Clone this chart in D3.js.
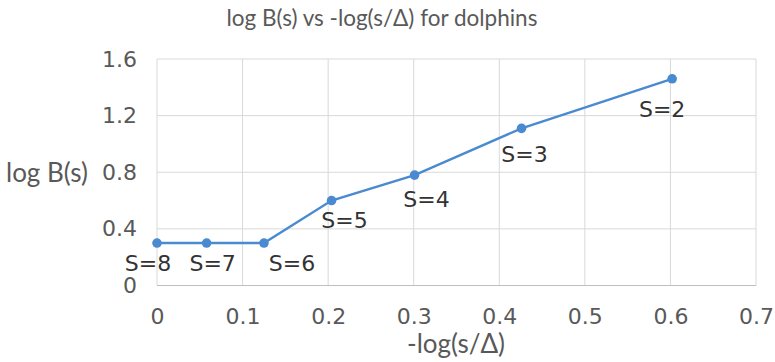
<!DOCTYPE html>
<html>
<head>
<meta charset="utf-8">
<script src="https://cdn.jsdelivr.net/npm/d3@7"></script>
<style>
  body { margin: 0; background: #fff; }
  svg { display: block; }
</style>
</head>
<body>
<div id="chart"></div>
<script>
// log B(s) vs -log(s/Δ), dolphins network

const sizes = [8, 7, 6, 5, 4, 3, 2];
const xVals = [0, 0.058, 0.125, 0.204, 0.301, 0.426, 0.602];
const yVals = [0.30, 0.30, 0.30, 0.60, 0.78, 1.11, 1.46];
const xTicks = [0, 0.1, 0.2, 0.3, 0.4, 0.5, 0.6, 0.7];
const yTicks = [0, 0.4, 0.8, 1.2, 1.6];

// manual label nudges (like dragged Excel data labels)
const labelNudge = [[-9, 20], [6, 20], [28, 20], [13, 20], [12, 24], [3, 26], [-10, 30]];

const width = 775;
const height = 362;
const margin = { top: 59, right: 19, bottom: 76.5, left: 157 };

const svg = d3.select('#chart')
  .append('svg')
  .attr('width', width)
  .attr('height', height);

const x = d3.scaleLinear()
  .domain([0, 0.7])
  .range([margin.left, width - margin.right]);

const y = d3.scaleLinear()
  .domain([0, 1.6])
  .range([height - margin.bottom, margin.top]);

const points = sizes.map((s, i) => ({ s: s, x: xVals[i], y: yVals[i], nudge: labelNudge[i] }));

// gridlines
svg.append('g')
  .selectAll('line')
  .data(yTicks.filter(d => d > 0))
  .enter().append('line')
  .attr('x1', x(0)).attr('x2', x(0.7))
  .attr('y1', d => y(d)).attr('y2', d => y(d))
  .attr('stroke', '#d9d9d9')
  .attr('stroke-width', 1);

svg.append('g')
  .selectAll('line')
  .data(xTicks)
  .enter().append('line')
  .attr('x1', d => x(d)).attr('x2', d => x(d))
  .attr('y1', y(0)).attr('y2', y(1.6))
  .attr('stroke', '#d9d9d9')
  .attr('stroke-width', 1);

// bottom axis line
svg.append('line')
  .attr('x1', x(0)).attr('x2', x(0.7))
  .attr('y1', y(0)).attr('y2', y(0))
  .attr('stroke', '#bfbfbf')
  .attr('stroke-width', 1.2);

// axes (labels only)
const fmt = d => d === 0 ? '0' : d3.format('.1f')(d);

const xAxis = svg.append('g')
  .attr('transform', `translate(0,${y(0)})`)
  .call(d3.axisBottom(x).tickValues(xTicks).tickSize(0).tickPadding(23).tickFormat(fmt));

const yAxis = svg.append('g')
  .attr('transform', `translate(${x(0) - 20},0)`)
  .call(d3.axisLeft(y).tickValues(yTicks).tickSize(0).tickPadding(0).tickFormat(fmt));

[xAxis, yAxis].forEach(a => {
  a.select('.domain').remove();
  a.selectAll('text')
    .attr('font-family', 'DejaVu Sans, Verdana, sans-serif')
    .attr('font-size', 22)
    .attr('fill', '#595959');
});

// line
const line = d3.line()
  .x(d => x(d.x))
  .y(d => y(d.y));

svg.append('path')
  .datum(points)
  .attr('d', line)
  .attr('fill', 'none')
  .attr('stroke', '#4a8ad0')
  .attr('stroke-width', 2.4);

svg.append('g')
  .selectAll('circle')
  .data(points)
  .enter().append('circle')
  .attr('cx', d => x(d.x))
  .attr('cy', d => y(d.y))
  .attr('r', 4.8)
  .attr('fill', '#4a8ad0');

// data labels
svg.append('g')
  .selectAll('text')
  .data(points)
  .enter().append('text')
  .attr('x', d => x(d.x) + d.nudge[0])
  .attr('y', d => y(d.y) + d.nudge[1])
  .attr('dy', '0.36em')
  .attr('text-anchor', 'middle')
  .attr('font-family', 'DejaVu Sans, Verdana, sans-serif')
  .attr('font-size', 22)
  .attr('fill', '#333')
  .text(d => `S=${d.s}`);

// titles
svg.append('text')
  .attr('x', 382)
  .attr('y', 26)
  .attr('text-anchor', 'middle')
  .attr('font-family', 'Lato, sans-serif')
  .attr('font-size', 22.5)
  .attr('fill', '#595959')
  .text('log B(s) vs -log(s/\u0394) for dolphins');

svg.append('text')
  .attr('x', 6)
  .attr('y', 182)
  .attr('font-family', 'Lato, sans-serif')
  .attr('font-size', 26)
  .attr('fill', '#595959')
  .text('log B(s)');

svg.append('text')
  .attr('x', 456)
  .attr('y', 353)
  .attr('text-anchor', 'middle')
  .attr('font-family', 'Lato, sans-serif')
  .attr('font-size', 26)
  .attr('fill', '#595959')
  .text('-log(s/\u0394)');
</script>
</body>
</html>
